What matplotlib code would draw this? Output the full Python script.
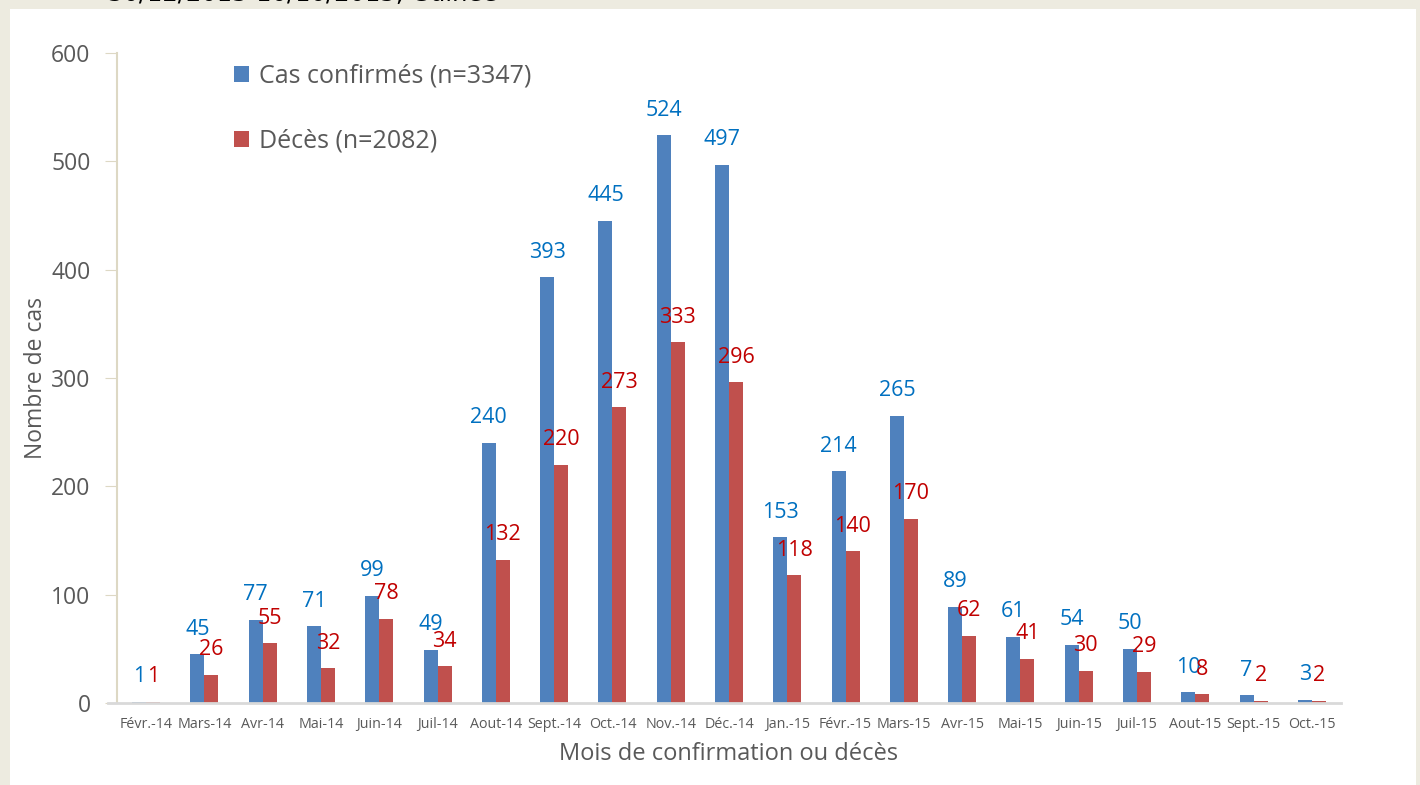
import numpy as np
import matplotlib.pyplot as plt
from matplotlib.patches import Rectangle

# donnees
mois = ["Févr.-14", "Mars-14", "Avr-14", "Mai-14", "Juin-14", "Juil-14", "Aout-14",
        "Sept.-14", "Oct.-14", "Nov.-14", "Déc.-14", "Jan.-15", "Févr.-15", "Mars-15",
        "Avr-15", "Mai-15", "Juin-15", "Juil-15", "Aout-15", "Sept.-15", "Oct.-15"]
cas = [1, 45, 77, 71, 99, 49, 240, 393, 445, 524, 497, 153, 214, 265, 89, 61, 54, 50, 10, 7, 3]
deces = [1, 26, 55, 32, 78, 34, 132, 220, 273, 333, 296, 118, 140, 170, 62, 41, 30, 29, 8, 2, 2]
yticks = [0, 100, 200, 300, 400, 500, 600]

plt.rcParams['font.family'] = ['Open Sans', 'DejaVu Sans']

fig = plt.figure(figsize=(14.2, 7.85), dpi=100, facecolor='#EDEBE0')

# fond : panneau blanc
bg = fig.add_axes([0, 0, 1, 1], zorder=-1)
bg.axis('off')
bg.set_xlim(0, 1)
bg.set_ylim(0, 1)
bg.add_patch(Rectangle((10/1420, 0), 1406/1420, 1 - 9/785, facecolor='white', edgecolor='none'))
bg.text(108/1420, 1 - 1/785, "30/12/2013-10/10/2015, Guinée", fontsize=17.5,
        color='black', va='baseline', ha='left', family='DejaVu Sans')

ax = fig.add_axes([117/1420, 1 - 703/785, 1224/1420, 650/785])
ax.set_facecolor('none')

x = np.arange(len(mois))
w = 0.24
ax.bar(x - w/2, cas, w, color='#4F81BD', label="Cas confirmés (n=3347)")
ax.bar(x + w/2, deces, w, color='#C0504D', label="Décès (n=2082)")

for xi, v in zip(x, cas):
    ax.annotate(str(v), (xi - w/2, v), xytext=(0, 18), textcoords='offset points',
                ha='center', va='center', fontsize=15.5, color='#0070C0')
for xi, v in zip(x, deces):
    ax.annotate(str(v), (xi + w/2, v), xytext=(0, 18), textcoords='offset points',
                ha='center', va='center', fontsize=15.5, color='#C00000')

ax.set_xlim(-0.5, len(mois) - 0.5)
ax.set_ylim(0, 600)
ax.set_yticks(yticks)
ax.set_xticks(x)
ax.set_xticklabels(mois, fontsize=10.3, color='#595959')
ax.tick_params(axis='x', length=0, pad=10)
ax.tick_params(axis='y', length=9, color='#DDD8C4', labelsize=16.5, labelcolor='#595959', pad=10)

for s in ['top', 'right']:
    ax.spines[s].set_visible(False)
ax.spines['left'].set_color('#DDD8C4')
ax.spines['left'].set_linewidth(1.5)
ax.spines['bottom'].set_color('#D9D9D9')
ax.spines['bottom'].set_linewidth(2)
ax.spines['bottom'].set_bounds(-0.65, len(mois) - 0.5)

ax.set_ylabel("Nombre de cas", fontsize=16.5, color='#595959', labelpad=2)
ax.set_xlabel("Mois de confirmation ou décès", fontsize=17, color='#595959', labelpad=7)

ax.legend(loc='upper left', bbox_to_anchor=(0.077, 1.018), frameon=False,
          fontsize=18, handlelength=0.6, handleheight=0.6, handletextpad=0.4,
          labelspacing=1.6, labelcolor='#595959')

plt.savefig('out.png', dpi=100, facecolor=fig.get_facecolor())
